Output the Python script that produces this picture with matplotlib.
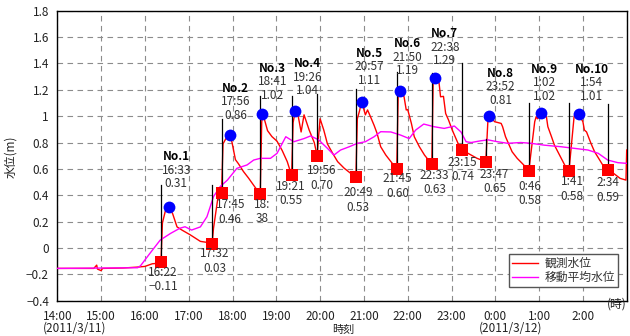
import matplotlib
matplotlib.use('Agg')
import matplotlib.pyplot as plt
import numpy as np
from matplotlib.transforms import Bbox, TransformedBbox

plt.rcParams['font.family'] = ['Noto Sans CJK JP', 'DejaVu Sans']

# observed water level (red)
red_t = ["14:00", "14:50", "14:54", "14:55", "15:00", "15:02", "15:30", "15:50", "16:00", "16:10",
         "16:20", "16:22", "16:24", "16:28", "16:33", "16:38", "16:44", "16:51", "17:02", "17:16",
         "17:28", "17:32", "17:34", "17:40", "17:45", "17:47", "17:52", "17:56", "17:59", "18:04",
         "18:08", "18:15", "18:22", "18:31", "18:38", "18:40", "18:41", "18:44", "18:48", "18:54",
         "19:01", "19:08", "19:15", "19:21", "19:23", "19:26", "19:30", "19:34", "19:38", "19:45",
         "19:52", "19:56", "19:58", "20:00", "20:05", "20:10", "20:17", "20:24", "20:33", "20:42",
         "20:49", "20:51", "20:54", "20:57", "21:02", "21:05", "21:09", "21:14", "21:18", "21:23",
         "21:30", "21:37", "21:45", "21:47", "21:50", "21:55", "21:58", "22:00", "22:05", "22:09",
         "22:16", "22:23", "22:33", "22:35", "22:38", "22:43", "22:45", "22:49", "22:52", "22:56",
         "23:01", "23:06", "23:10", "23:15", "23:22", "23:35", "23:47", "23:50", "23:53", "23:59",
         "0:08", "0:10", "0:14", "0:18", "0:23", "0:30", "0:39", "0:46", "0:54", "0:56",
         "0:58", "1:02", "1:10", "1:12", "1:17", "1:21", "1:28", "1:35", "1:41", "1:48",
         "1:54", "2:00", "2:02", "2:05", "2:11", "2:16", "2:23", "2:30", "2:34", "2:42",
         "2:51", "2:59", "3:00"]
red_v = [-0.155, -0.155, -0.13, -0.16, -0.172, -0.155, -0.152, -0.145, -0.14, -0.12,
         -0.115, -0.11, 0.19, 0.28, 0.31, 0.26, 0.16, 0.135, 0.10, 0.05,
         0.04, 0.03, 0.15, 0.38, 0.42, 0.79, 0.84, 0.86, 0.81, 0.67,
         0.64, 0.58, 0.53, 0.46, 0.41, 0.95, 1.02, 0.97, 0.89, 0.845,
         0.81, 0.74, 0.655, 0.55, 0.95, 1.04, 1.00, 0.88, 1.01, 0.895,
         0.80, 0.70, 0.85, 0.98, 0.895, 0.79, 0.72, 0.655, 0.605, 0.566,
         0.535, 0.98, 1.04, 1.11, 1.01, 1.047, 0.996, 0.93, 0.87, 0.768,
         0.705, 0.655, 0.60, 1.17, 1.19, 1.147, 1.047, 1.05, 0.946, 0.844,
         0.768, 0.705, 0.635, 1.30, 1.29, 1.25, 1.147, 1.15, 1.02, 0.97,
         0.895, 0.83, 0.78, 0.74, 0.72, 0.68, 0.655, 0.98, 1.00, 0.958,
         0.945, 0.92, 0.844, 0.794, 0.73, 0.68, 0.63, 0.59, 0.958, 0.996,
         0.98, 1.026, 0.996, 0.92, 0.844, 0.78, 0.705, 0.63, 0.59, 1.00,
         1.014, 0.958, 0.895, 0.88, 0.794, 0.73, 0.667, 0.604, 0.59, 0.566,
         0.528, 0.515, 0.743]

# moving average water level (magenta)
ma_t = ["14:00", "15:50", "15:54", "16:07", "16:21", "16:35", "16:48", "16:55", "17:04", "17:16",
        "17:25", "17:34", "17:43", "17:53", "18:06", "18:20", "18:29", "18:38", "18:52", "19:01",
        "19:13", "19:24", "19:38", "19:47", "19:58", "20:10", "20:19", "20:28", "20:40", "20:51",
        "21:02", "21:14", "21:23", "21:37", "21:50", "22:02", "22:11", "22:22", "22:36", "22:50",
        "23:04", "23:13", "23:20", "23:27", "23:40", "23:50", "0:03", "0:17", "0:35", "0:49",
        "1:07", "1:30", "1:48", "2:07", "2:21", "2:34", "2:48", "3:00"]
ma_v = [-0.155, -0.15, -0.135, -0.04, 0.06, 0.11, 0.15, 0.161, 0.136, 0.16,
        0.237, 0.39, 0.465, 0.515, 0.604, 0.63, 0.667, 0.68, 0.68, 0.718,
        0.844, 0.806, 0.83, 0.85, 0.82, 0.756, 0.705, 0.743, 0.768, 0.794,
        0.806, 0.844, 0.882, 0.88, 0.857, 0.83, 0.895, 0.94, 0.92, 0.907,
        0.925, 0.88, 0.806, 0.80, 0.813, 0.82, 0.806, 0.794, 0.80, 0.794,
        0.78, 0.768, 0.756, 0.743, 0.718, 0.667, 0.647, 0.642]

# troughs (red squares) and the black lines drawn up from them
trough_t = ["16:22", "17:32", "17:45", "18:38", "19:21", "19:56", "20:49",
            "21:45", "22:33", "23:15", "23:47", "0:46", "1:41", "2:34"]
trough_v = [-0.11, 0.03, 0.42, 0.41, 0.55, 0.70, 0.535,
            0.60, 0.635, 0.74, 0.655, 0.585, 0.585, 0.59]
line_top = [0.48, 0.48, 0.976, 1.153, 1.15, 1.17, 1.204,
            1.335, 1.33, 1.40, 0.83, 1.097, 1.10, 1.09]
trough_lbl = ["16:22\n\u22120.11", "17:32\n0.03", "17:45\n0.46", "18:\n38\n0.41", "19:21\n0.55",
              "19:56\n0.70", "20:49\n0.53", "21:45\n0.60", "22:33\n0.63", "23:15\n0.74",
              "23:47\n0.65", "0:46\n0.58", "1:41\n0.58", "2:34\n0.59"]
trough_lbl_t = ["16:25", "17:36", "17:57", "18:41", "19:20", "20:02", "20:52",
                "21:46", "22:37", "23:15", "23:59", "0:47", "1:45", "2:34"]
trough_lbl_y = [-0.241, -0.099, 0.273, 0.22, 0.414, 0.531, 0.364,
                0.472, 0.495, 0.597, 0.503, 0.414, 0.449, 0.44]

# peaks (blue circles)
peak_no = ["No.1", "No.2", "No.3", "No.4", "No.5", "No.6", "No.7", "No.8", "No.9", "No.10"]
peak_t = ["16:33", "17:56", "18:41", "19:26", "20:57", "21:50", "22:38", "23:52", "1:02", "1:54"]
peak_v = [0.31, 0.86, 1.02, 1.04, 1.11, 1.19, 1.29, 1.00, 1.026, 1.014]
peak_lbl = ["0.31", "0.86", "1.02", "1.04", "1.11", "1.19", "1.29", "0.81", "1.02", "1.01"]
peak_lbl_t = ["16:43", "18:04", "18:55", "19:43", "21:07", "22:00", "22:51", "0:07", "1:07", "2:12"]
peak_lbl_y = [0.591, 1.110, 1.261, 1.295, 1.375, 1.446, 1.522, 1.223, 1.254, 1.254]

hour_labels = ["14:00", "15:00", "16:00", "17:00", "18:00", "19:00", "20:00",
               "21:00", "22:00", "23:00", "0:00", "1:00", "2:00", ""]
y_ticks = [-0.4, -0.2, 0, 0.2, 0.4, 0.6, 0.8, 1.0, 1.2, 1.4, 1.6, 1.8]
y_labels = ["\u22120.4", "\u22120.2", "0", "0.2", "0.4", "0.6", "0.8", "1", "1.2", "1.4", "1.6", "1.8"]


def hrs(s):
    h, m = s.split(':')
    h = int(h)
    if h < 14:
        h += 24
    return h - 14 + int(m) / 60


def xs(lst):
    return [hrs(t) for t in lst]


fig = plt.figure(figsize=(6.3, 3.36), dpi=100)
ax = fig.add_axes([57.3 / 630, 1 - 300.7 / 336, 569.4 / 630, 290 / 336])

ax.plot(xs(red_t), red_v, color='#ff0000', lw=1.0, zorder=3, label='観測水位')
ax.plot(xs(ma_t), ma_v, color='#ff00ff', lw=1.0, zorder=3, label='移動平均水位')

for t, v0, v1 in zip(trough_t, trough_v, line_top):
    ax.plot([hrs(t), hrs(t)], [v0, v1], color='black', lw=0.9, zorder=4)

ax.plot(xs(trough_t), trough_v, 's', color='#ff0000', ms=8.5, mew=0, zorder=5)
ax.plot(xs(peak_t), peak_v, 'o', color='#0000ff', ms=8.5, mew=0, zorder=5)

txt_color = '#333333'
fs = 8.5
for i in range(len(trough_t)):
    t = ax.text(hrs(trough_lbl_t[i]), trough_lbl_y[i], trough_lbl[i], ha='center', va='center',
                multialignment='center', fontsize=fs, color=txt_color, linespacing=1.15, zorder=6)
    if trough_t[i] == "18:38":
        # the last line of this label is cut off in the original
        bb = Bbox([[hrs("18:15"), 0.15], [hrs("19:05"), 0.6]])
        t.set_clip_box(TransformedBbox(bb, ax.transData))
        t.set_clip_on(True)

for i in range(len(peak_t)):
    x, y = hrs(peak_lbl_t[i]), peak_lbl_y[i]
    ax.annotate(peak_no[i], (x, y), xytext=(0, 9.8), textcoords='offset points',
                ha='center', va='center', fontsize=fs, fontweight='bold', color='black', zorder=6)
    ax.annotate(peak_t[i], (x, y), ha='center', va='center', fontsize=fs, color=txt_color, zorder=6)
    ax.annotate(peak_lbl[i], (x, y), xytext=(0, -9.8), textcoords='offset points',
                ha='center', va='center', fontsize=fs, color=txt_color, zorder=6)

ax.set_xlim(0, 13)
ax.set_ylim(-0.4, 1.8)
ax.set_xticks(range(14))
ax.set_xticklabels(hour_labels)
ax.set_yticks(y_ticks)
ax.set_yticklabels(y_labels)
ax.tick_params(axis='both', length=0, labelsize=fs, colors='#222222')
ax.tick_params(axis='x', pad=6.5)
ax.tick_params(axis='y', pad=6)
ax.grid(True, color='#8c8c8c', linestyle=(0, (5, 4)), linewidth=0.8)
for sp in ax.spines.values():
    sp.set_color('black')
    sp.set_linewidth(1.0)

ax.set_ylabel('水位(m)', fontsize=fs, color='#222222')
ax.yaxis.set_label_coords(-0.0713, 0.497)

leg = ax.legend(loc='upper right', bbox_to_anchor=(0.985, 0.161), borderaxespad=0,
                fontsize=fs, handlelength=2.2, fancybox=False, framealpha=1,
                edgecolor='#555555', borderpad=0.25, labelspacing=0.1, handletextpad=0.6)
for txt in leg.get_texts():
    txt.set_color('#333333')

fig.text(343 / 630, 1.5 / 336, '時刻', fontsize=8, ha='center', va='bottom', color='#222222')
fig.text(43 / 630, 1 - 328 / 336, '(2011/3/11)', fontsize=fs, ha='left', va='center', color='#222222')
fig.text(510.5 / 630, 1 - 328.5 / 336, '(2011/3/12)', fontsize=fs, ha='center', va='center', color='#222222')
fig.text(616.7 / 630, 1 - 304.5 / 336, '(時)', fontsize=fs, ha='center', va='center', color='#222222')

fig.savefig('out.png', dpi=100)
